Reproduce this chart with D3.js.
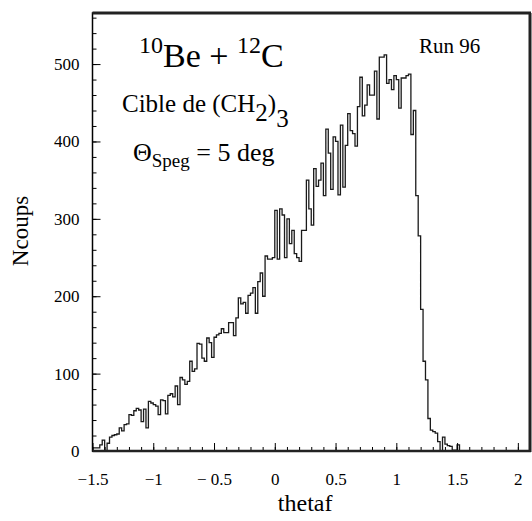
<!DOCTYPE html>
<html><head><meta charset="utf-8">
<script src="https://cdn.jsdelivr.net/npm/d3@7"></script>
<style>
body{margin:0;background:#fff}
svg text{font-family:"Liberation Serif","Times New Roman",serif;fill:#000}
</style>
</head><body><svg id="c" width="532" height="521"></svg>
<script>
// ---- data ----
const binLow = -1.5;
const binWidth = 0.02;
const counts = [
  4,4,4,8,14,0,10,18,20,21,            // 0-9
  22,30,26,34,35,47,46,52,55,53,       // 10-19
  38,54,30,64,62,60,58,47,66,65,       // 20-29
  48,72,74,70,84,60,95,92,86,90,       // 30-39
  116,103,106,139,138,120,116,146,140,121, // 40-49
  147,150,152,158,153,153,166,166,149,172, // 50-59
  198,190,192,178,201,204,211,178,219,230, // 60-69
  200,252,248,248,250,311,248,313,305,250, // 70-79
  300,268,285,255,250,245,285,285,350,313, // 80-89
  292,365,342,350,372,330,416,385,338,406, // 90-99
  400,331,421,341,395,436,414,410,394,445, // 100-109
  483,433,447,473,460,460,491,429,509,509, // 110-119
  512,475,480,467,485,480,443,482,482,485, // 120-129
  487,409,440,330,278,183,116,92,42,27,    // 130-139
  25,23,12,0,18,9,7,6,1,1,                 // 140-149
  8,0,0,0,0,0,0,0,0,0,                     // 150-159
  0,0,0,0,0,0,0,0,0,0,                     // 160-169
  0,0,0,0,0,0,0,0,0,0                      // 170-179
];
const xMajorTicks = [-1.5,-1,-0.5,0,0.5,1,1.5,2];
const xTickLabels = ["\u22121.5","\u22121","\u2212 0.5","0","0.5","1","1.5","2"];
const yMajorTicks = [0,100,200,300,400,500];
const yTickLabels = ["0","100","200","300","400","500"];
const xDomain = [-1.5, 2.1];
const yDomain = [0, 566];

// ---- layout ----
const L = 92.5, R = 530, T = 13, B = 451;
const svg = d3.select("#c");
const x = d3.scaleLinear().domain(xDomain).range([L, R]);
const y = d3.scaleLinear().domain(yDomain).range([B, T]);

// histogram outline
const pts = [];
counts.forEach((c,i)=>{ pts.push([binLow+i*binWidth, c]); });
pts.push([binLow+counts.length*binWidth, counts[counts.length-1]]);
const line = d3.line().x(d=>x(d[0])).y(d=>y(d[1])).curve(d3.curveStepAfter);
svg.append("path").attr("d", line(pts))
  .attr("fill","none").attr("stroke","#1a1a1a").attr("stroke-width",1.3);

// minor ticks
const xMinor = d3.range(-15, 21).map(v=>v/10);
const yMinor = d3.range(0, 561, 20);
svg.append("g").attr("transform",`translate(0,${B})`)
  .call(d3.axisBottom(x).tickValues(xMinor).tickSize(-4).tickFormat(""))
  .call(g=>g.select(".domain").remove())
  .selectAll("line").attr("stroke","#000").attr("stroke-width",1);
svg.append("g").attr("transform",`translate(${L},0)`)
  .call(d3.axisLeft(y).tickValues(yMinor).tickSize(-4).tickFormat(""))
  .call(g=>g.select(".domain").remove())
  .selectAll("line").attr("stroke","#000").attr("stroke-width",1);

// major ticks + labels
const gx = svg.append("g").attr("transform",`translate(0,${B})`)
  .call(d3.axisBottom(x).tickValues(xMajorTicks).tickSize(-8).tickPadding(22)
        .tickFormat((d,i)=>xTickLabels[i]))
  .call(g=>g.select(".domain").remove());
gx.selectAll("line").attr("stroke","#000").attr("stroke-width",1);
gx.selectAll("text").style("font-size","17px").attr("font-family",null);
const gy = svg.append("g").attr("transform",`translate(${L},0)`)
  .call(d3.axisLeft(y).tickValues(yMajorTicks).tickSize(-8).tickPadding(13)
        .tickFormat((d,i)=>yTickLabels[i]))
  .call(g=>g.select(".domain").remove());
gy.selectAll("line").attr("stroke","#000").attr("stroke-width",1);
gy.selectAll("text").style("font-size","17px").attr("font-family",null);

// frame
svg.append("rect").attr("x",L).attr("y",T).attr("width",R-L).attr("height",B-T)
  .attr("fill","none").attr("stroke","#000").attr("stroke-width",1.5);
svg.append("line").attr("x1",L).attr("x2",R+1).attr("y1",T).attr("y2",T).attr("stroke","#222").attr("stroke-width",3);
svg.append("line").attr("x1",R).attr("x2",R).attr("y1",T).attr("y2",B+1).attr("stroke","#222").attr("stroke-width",3);
svg.append("line").attr("x1",L).attr("x2",R+1).attr("y1",B).attr("y2",B).attr("stroke","#222").attr("stroke-width",2.5);

// axis titles
svg.append("text").attr("x",x(0.25)).attr("y",511).attr("text-anchor","middle")
  .style("font-size","24px").text("thetaf");
svg.append("text").attr("transform","translate(28,231) rotate(-90)").attr("text-anchor","middle")
  .style("font-size","23px").text("Ncoups");

// annotations
const t1 = svg.append("text").attr("x",139).attr("y",67).style("font-size","34px");
t1.append("tspan").attr("dy",-14).style("font-size","24px").text("10");
t1.append("tspan").attr("dy",14).text("Be + ");
t1.append("tspan").attr("dy",-14).style("font-size","24px").text("12");
t1.append("tspan").attr("dy",14).text("C");

const t2 = svg.append("text").attr("x",122).attr("y",112).style("font-size","25px");
t2.append("tspan").text("Cible de (CH");
t2.append("tspan").attr("dy",9).text("2");
t2.append("tspan").attr("dy",-9).text(")");
t2.append("tspan").attr("dy",15).text("3");

const t3 = svg.append("text").attr("x",133).attr("y",161).style("font-size","26px");
t3.append("tspan").text("\u0398");
t3.append("tspan").attr("dy",6).style("font-size","19px").text("Speg");
t3.append("tspan").attr("dy",-6).text(" = 5 deg");

svg.append("text").attr("x",419).attr("y",53).style("font-size","21px").text("Run 96");
</script>
</body></html>
